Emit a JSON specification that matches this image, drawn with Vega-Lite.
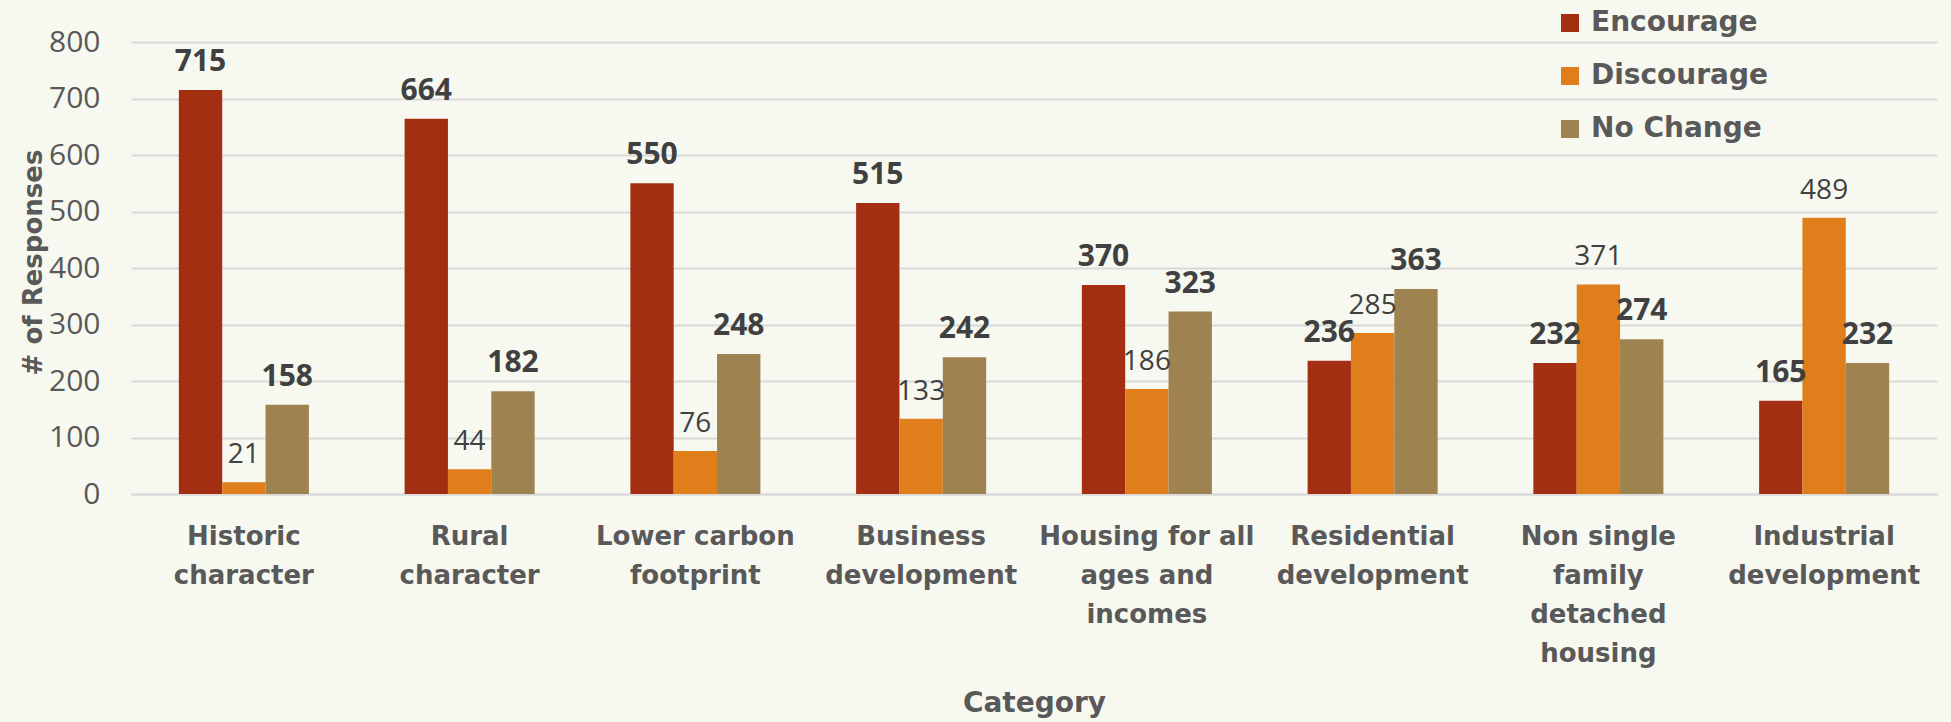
{
  "$schema": "https://vega.github.io/schema/vega-lite/v6.json",
  "width": 1806,
  "height": 452,
  "autosize": {"type": "none"},
  "padding": {"left": 131, "top": 42, "right": 14, "bottom": 228},
  "background": "#F7F8F0",
  "config": {"view": {"stroke": null}, "font": "DejaVu Sans"},
  "data": {
    "values": [
      {"category": "Historic character", "response": "Encourage", "count": 715},
      {"category": "Historic character", "response": "Discourage", "count": 21},
      {"category": "Historic character", "response": "No Change", "count": 158},
      {"category": "Rural character", "response": "Encourage", "count": 664},
      {"category": "Rural character", "response": "Discourage", "count": 44},
      {"category": "Rural character", "response": "No Change", "count": 182},
      {"category": "Lower carbon footprint", "response": "Encourage", "count": 550},
      {"category": "Lower carbon footprint", "response": "Discourage", "count": 76},
      {"category": "Lower carbon footprint", "response": "No Change", "count": 248},
      {"category": "Business development", "response": "Encourage", "count": 515},
      {"category": "Business development", "response": "Discourage", "count": 133},
      {"category": "Business development", "response": "No Change", "count": 242},
      {"category": "Housing for all ages and incomes", "response": "Encourage", "count": 370},
      {"category": "Housing for all ages and incomes", "response": "Discourage", "count": 186},
      {"category": "Housing for all ages and incomes", "response": "No Change", "count": 323},
      {"category": "Residential development", "response": "Encourage", "count": 236},
      {"category": "Residential development", "response": "Discourage", "count": 285},
      {"category": "Residential development", "response": "No Change", "count": 363},
      {"category": "Non single family detached housing", "response": "Encourage", "count": 232},
      {"category": "Non single family detached housing", "response": "Discourage", "count": 371},
      {"category": "Non single family detached housing", "response": "No Change", "count": 274},
      {"category": "Industrial development", "response": "Encourage", "count": 165},
      {"category": "Industrial development", "response": "Discourage", "count": 489},
      {"category": "Industrial development", "response": "No Change", "count": 232}
    ]
  },
  "encoding": {
    "x": {
      "field": "category",
      "type": "nominal",
      "sort": null,
      "title": "Category",
      "scale": {"paddingInner": 0.424, "paddingOuter": 0.212},
      "axis": {
        "labelExpr": "{'Historic character':['Historic','character'],'Rural character':['Rural','character'],'Lower carbon footprint':['Lower carbon','footprint'],'Business development':['Business','development'],'Housing for all ages and incomes':['Housing for all','ages and','incomes'],'Residential development':['Residential','development'],'Non single family detached housing':['Non single','family','detached','housing'],'Industrial development':['Industrial','development']}[datum.value]",
        "labelAngle": 0,
        "labelFont": "DejaVu Sans",
        "labelFontWeight": "bold",
        "labelFontSize": 26,
        "labelColor": "#595959",
        "labelLineHeight": 39,
        "labelBaseline": "top",
        "labelPadding": 29,
        "labelLimit": 0,
        "ticks": false,
        "domainColor": "#D9D9D9",
        "domainWidth": 2,
        "titleFont": "DejaVu Sans",
        "titleFontSize": 28,
        "titleFontWeight": "bold",
        "titleColor": "#595959",
        "titleY": 209,
        "titleBaseline": "middle"
      }
    },
    "xOffset": {
      "field": "response",
      "type": "nominal",
      "sort": ["Encourage", "Discourage", "No Change"],
      "scale": {"paddingInner": 0, "paddingOuter": 0}
    },
    "y": {
      "field": "count",
      "type": "quantitative",
      "title": "# of Responses",
      "scale": {"domain": [0, 800], "nice": false},
      "axis": {
        "values": [0, 100, 200, 300, 400, 500, 600, 700, 800],
        "labelFont": "Open Sans",
        "labelFontSize": 30,
        "labelColor": "#595959",
        "labelPadding": 31,
        "ticks": false,
        "domain": false,
        "grid": true,
        "gridColor": "#D9D9D9",
        "gridWidth": 2,
        "titleFont": "DejaVu Sans",
        "titleFontSize": 26,
        "titleFontWeight": "bold",
        "titleColor": "#595959",
        "titleAngle": -90,
        "titleX": -98,
        "titleY": 220,
        "titleAlign": "center",
        "titleBaseline": "middle"
      }
    }
  },
  "layer": [
    {
      "mark": {"type": "bar"},
      "encoding": {
        "color": {
          "field": "response",
          "type": "nominal",
          "sort": ["Encourage", "Discourage", "No Change"],
          "scale": {
            "domain": ["Encourage", "Discourage", "No Change"],
            "range": ["#A42E12", "#DF7E1A", "#9E8250"]
          },
          "legend": {
            "title": null,
            "orient": "none",
            "legendX": 1425,
            "legendY": -33,
            "symbolType": "square",
            "symbolSize": 324,
            "symbolStrokeWidth": 0,
            "labelFont": "DejaVu Sans",
            "labelFontWeight": "bold",
            "labelFontSize": 28,
            "labelColor": "#595959",
            "labelOffset": 7,
            "labelLimit": 0,
            "rowPadding": 25,
            "padding": 0
          }
        }
      }
    },
    {
      "transform": [{"filter": "datum.response !== 'Discourage'"}],
      "mark": {
        "type": "text",
        "baseline": "alphabetic",
        "dy": -19,
        "font": "Open Sans",
        "fontWeight": "bold",
        "fontSize": 30,
        "color": "#404040"
      },
      "encoding": {"text": {"field": "count", "type": "quantitative"}}
    },
    {
      "transform": [{"filter": "datum.response === 'Discourage'"}],
      "mark": {
        "type": "text",
        "baseline": "alphabetic",
        "dy": -19,
        "font": "Open Sans",
        "fontWeight": "normal",
        "fontSize": 28,
        "color": "#404040"
      },
      "encoding": {"text": {"field": "count", "type": "quantitative"}}
    }
  ]
}
